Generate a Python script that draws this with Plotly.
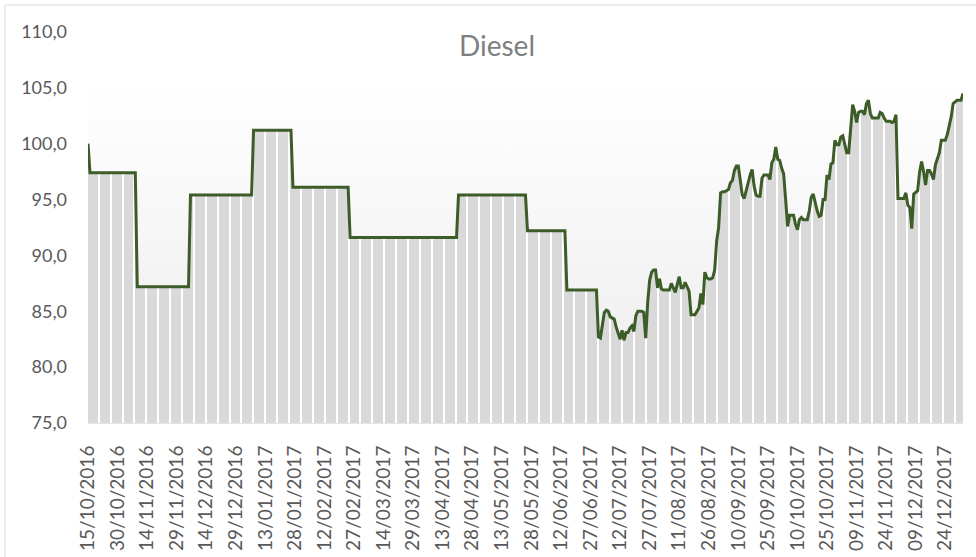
import pandas as pd
import plotly.graph_objects as go

TITLE = "Diesel"

# Step (monthly) period: value on each date where the level changes
STEP_DATES = ["2016-10-15", "2016-10-16", "2016-11-08", "2016-11-09", "2016-12-05", "2016-12-06",
              "2017-01-06", "2017-01-07", "2017-01-26", "2017-01-27", "2017-02-24", "2017-02-25",
              "2017-04-20", "2017-04-21", "2017-05-25", "2017-05-26", "2017-06-14", "2017-06-15",
              "2017-06-30"]
STEP_VALUES = [100.0, 97.4, 97.4, 87.2, 87.2, 95.4,
               95.4, 101.2, 101.2, 96.1, 96.1, 91.6,
               91.6, 95.4, 95.4, 92.2, 92.2, 86.9,
               86.9]

# Daily period, from 01/07/2017
DAILY_START = "2017-07-01"
DAILY_VALUES = [
    82.7, 82.6, 83.8, 84.9, 85.1, 85.0, 84.5, 84.4, 84.3, 83.6,
    83.0, 82.5, 83.3, 82.4, 83.1, 83.1, 83.5, 83.7, 83.2, 84.6,
    85.0, 85.0, 85.0, 84.9, 82.6, 85.8, 87.8, 88.5, 88.7, 88.7,
    87.1, 87.9, 87.0, 86.9, 86.9, 86.9, 86.9, 87.5, 87.0, 86.7,
    87.4, 88.1, 87.1, 87.1, 87.6, 87.2, 86.8, 84.7, 84.7, 84.7,
    85.0, 85.3, 86.6, 85.6, 88.5, 88.0, 87.9, 87.9, 88.0, 88.7,
    91.3, 92.5, 95.6, 95.7, 95.7, 95.8, 95.9, 96.5, 96.7, 97.6,
    98.0, 98.0, 96.8, 95.4, 95.1, 95.8, 96.7, 97.2, 97.7, 96.2,
    95.4, 95.3, 95.3, 96.9, 97.2, 97.2, 97.2, 96.8, 98.3, 98.6,
    99.7, 98.6, 98.5, 97.8, 97.3, 95.0, 92.6, 93.6, 93.6, 93.6,
    92.8, 92.3, 93.2, 93.4, 93.2, 93.2, 93.2, 94.0, 95.2, 95.5,
    94.6, 94.0, 93.5, 93.6, 95.0, 95.0, 97.2, 96.8, 98.2, 98.3,
    100.3, 99.9, 99.9, 100.6, 100.7, 99.8, 99.2, 99.2, 101.5, 103.5,
    102.9, 101.9, 102.8, 102.9, 102.9, 102.6, 103.6, 103.9, 102.7, 102.3,
    102.3, 102.3, 102.3, 102.8, 102.7, 102.3, 102.0, 102.0, 102.0, 101.9,
    102.0, 102.6, 95.1, 95.1, 95.1, 95.1, 95.6, 94.5, 94.3, 92.4,
    95.5, 95.7, 95.8, 97.5, 98.4, 97.5, 96.3, 97.6, 97.6, 97.3,
    96.8, 98.1, 98.6, 99.2, 100.3, 100.3, 100.3, 100.8, 101.5, 102.4,
    103.6, 103.8, 103.9, 103.9, 103.9, 104.5,
]

TICK_LABELS = ["15/10/2016", "30/10/2016", "14/11/2016", "29/11/2016", "14/12/2016", "29/12/2016",
               "13/01/2017", "28/01/2017", "12/02/2017", "27/02/2017", "14/03/2017", "29/03/2017",
               "13/04/2017", "28/04/2017", "13/05/2017", "28/05/2017", "12/06/2017", "27/06/2017",
               "12/07/2017", "27/07/2017", "11/08/2017", "26/08/2017", "10/09/2017", "25/09/2017",
               "10/10/2017", "25/10/2017", "09/11/2017", "24/11/2017", "09/12/2017", "24/12/2017"]

Y_MIN, Y_MAX, Y_STEP = 75, 110, 5

# ---------------------------------------------------------------
daily_dates = pd.date_range(DAILY_START, periods=len(DAILY_VALUES), freq="D")
dates = list(pd.to_datetime(STEP_DATES)) + list(daily_dates)
values = STEP_VALUES + DAILY_VALUES
tickvals = [pd.to_datetime(t, format="%d/%m/%Y") for t in TICK_LABELS]

W, H = 976, 557
L, R, T, B = 88, 13, 32, 134
PW = W - L - R
PH = H - T - B

LINE_GREEN = "#3c5c28"
BAR_GRAY = "#d9d9d9"
TXT = "#595959"
FONT = "Lato"

fig = go.Figure()

# top boundary used to cover the area above the series (background gradient)
fig.add_trace(go.Scatter(
    x=dates, y=[Y_MAX] * len(dates), mode="lines",
    line=dict(width=0, color="rgba(0,0,0,0)"), hoverinfo="skip", showlegend=False,
))
# the series: gradient fill between line and top, gray area below shows plot background
fig.add_trace(go.Scatter(
    x=dates, y=values, mode="lines", name=TITLE,
    line=dict(color=LINE_GREEN, width=3),
    fill="tonexty",
    fillgradient=dict(type="vertical", start=Y_MIN, stop=105.4,
                      colorscale=[[0, "#ebebeb"], [1, "#ffffff"]]),
    showlegend=False,
))

bar_sep_ms = 6.034 * 86400000

fig.update_layout(
    width=W, height=H,
    margin=dict(l=L, r=R, t=T, b=B, autoexpand=False),
    paper_bgcolor="white",
    plot_bgcolor=BAR_GRAY,
    separators=",.",
    font=dict(family=FONT, color=TXT),
    title=dict(text=TITLE, x=497 / W, xanchor="center", xref="container",
               y=1 - 46 / H, yanchor="middle", yref="container",
               font=dict(family=FONT, size=28, color="#7f7f7f"), automargin=False),
    xaxis=dict(
        type="date", automargin=False,
        range=[dates[0], dates[-1]],
        tickmode="array", tickvals=tickvals, ticktext=TICK_LABELS,
        tickangle=-90, tickfont=dict(family=FONT, size=19, color=TXT),
        ticks="", showgrid=False, zeroline=False,
        showline=True, linecolor="#e6e6e6", linewidth=1,
        ticklabelstandoff=14,
        minor=dict(showgrid=True, gridcolor="white", gridwidth=1.6,
                   tick0="2016-10-20 11:30:00", dtick=bar_sep_ms, ticks=""),
    ),
    yaxis=dict(
        automargin=False,
        range=[Y_MIN, Y_MAX], dtick=Y_STEP, tick0=Y_MIN,
        tickformat=".1f", tickfont=dict(family=FONT, size=18, color=TXT),
        showgrid=False, zeroline=False, ticks="", showline=False,
        ticklabelstandoff=20,
    ),
    shapes=[dict(type="rect", xref="paper", yref="paper",
                 x0=(5 - L) / PW, x1=(985 - L) / PW,
                 y0=(H - B - 565) / PH, y1=(H - B - 5) / PH,
                 line=dict(color="#d9d9d9", width=1), fillcolor="rgba(0,0,0,0)",
                 layer="below")],
)

fig.write_html("out.html",
               config={"displayModeBar": False},
               post_script="document.body.style.margin='0';document.body.style.overflow='hidden';")
